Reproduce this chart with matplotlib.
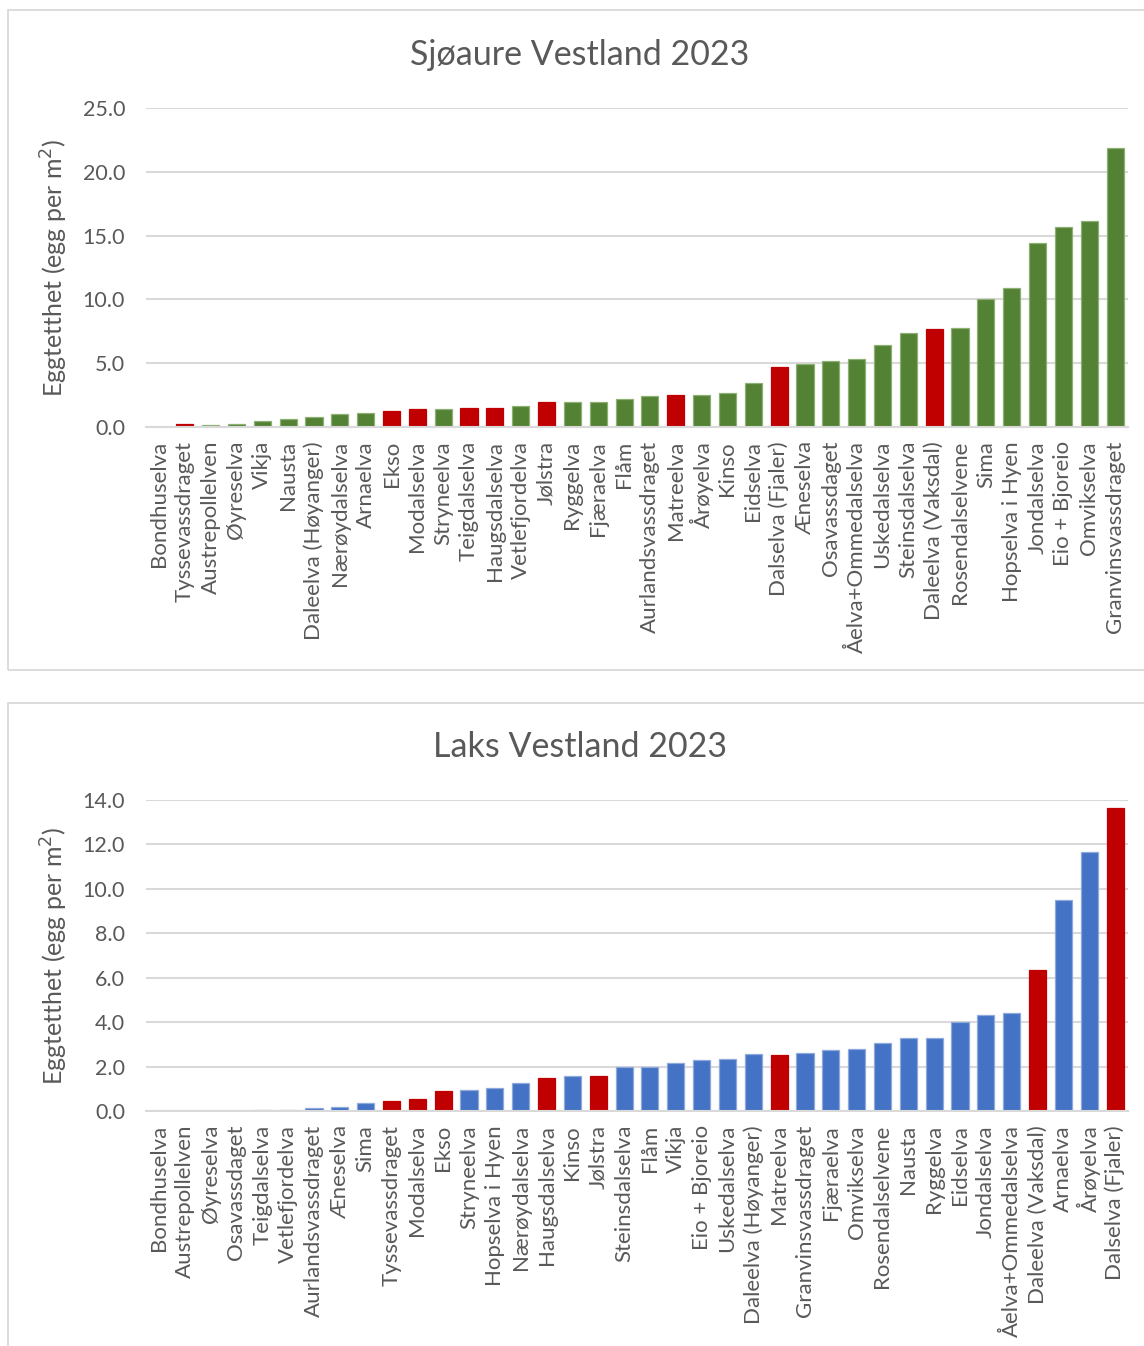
import matplotlib
matplotlib.use("Agg")
import matplotlib.pyplot as plt
from matplotlib.patches import Rectangle

# ---------------- data ----------------
trout_rivers = ["Bondhuselva", "Tyssevassdraget", "Austrepollelven", "Øyreselva", "Vikja", "Nausta",
                "Daleelva (Høyanger)", "Nærøydalselva", "Arnaelva", "Ekso", "Modalselva", "Stryneelva",
                "Teigdalselva", "Haugsdalselva", "Vetlefjordelva", "Jølstra", "Ryggelva", "Fjæraelva",
                "Flåm", "Aurlandsvassdraget", "Matreelva", "Årøyelva", "Kinso", "Eidselva",
                "Dalselva (Fjaler)", "Æneselva", "Osavassdaget", "Åelva+Ommedalselva", "Uskedalselva",
                "Steinsdalselva", "Daleelva (Vaksdal)", "Rosendalselvene", "Sima", "Hopselva i Hyen",
                "Jondalselva", "Eio + Bjoreio", "Omvikselva", "Granvinsvassdraget"]
trout_values = [0.03, 0.22, 0.15, 0.25, 0.47, 0.6, 0.8, 1.04, 1.12, 1.25, 1.41, 1.4,
                1.49, 1.49, 1.65, 1.96, 1.93, 1.96, 2.19, 2.4, 2.5, 2.52, 2.66, 3.42,
                4.71, 4.97, 5.2, 5.34, 6.42, 7.39, 7.7, 7.78, 10.05, 10.9,
                14.4, 15.7, 16.15, 21.9]
trout_highlight = ["Tyssevassdraget", "Ekso", "Modalselva", "Teigdalselva", "Haugsdalselva",
                   "Jølstra", "Matreelva", "Dalselva (Fjaler)", "Daleelva (Vaksdal)"]

salmon_rivers = ["Bondhuselva", "Austrepollelven", "Øyreselva", "Osavassdaget", "Teigdalselva",
                 "Vetlefjordelva", "Aurlandsvassdraget", "Æneselva", "Sima", "Tyssevassdraget",
                 "Modalselva", "Ekso", "Stryneelva", "Hopselva i Hyen", "Nærøydalselva",
                 "Haugsdalselva", "Kinso", "Jølstra", "Steinsdalselva", "Flåm", "Vikja",
                 "Eio + Bjoreio", "Uskedalselva", "Daleelva (Høyanger)", "Matreelva",
                 "Granvinsvassdraget", "Fjæraelva", "Omvikselva", "Rosendalselvene", "Nausta",
                 "Ryggelva", "Eidselva", "Jondalselva", "Åelva+Ommedalselva", "Daleelva (Vaksdal)",
                 "Arnaelva", "Årøyelva", "Dalselva (Fjaler)"]
salmon_values = [0.0, 0.0, 0.0, 0.0, 0.03, 0.03, 0.12, 0.2, 0.36, 0.44,
                 0.53, 0.89, 0.95, 1.02, 1.25, 1.48, 1.57, 1.58, 1.98, 2.0, 2.17,
                 2.3, 2.36, 2.56, 2.53, 2.62, 2.75, 2.77, 3.07, 3.28,
                 3.29, 4.01, 4.32, 4.42, 6.36, 9.52, 11.64, 13.62]
salmon_highlight = ["Tyssevassdraget", "Modalselva", "Ekso", "Haugsdalselva", "Jølstra",
                    "Matreelva", "Daleelva (Vaksdal)", "Dalselva (Fjaler)"]

titles = ["Sjøaure Vestland 2023", "Laks Vestland 2023"]
y_label = "Eggtetthet (egg per m$^2$)"
trout_yticks = [0, 5, 10, 15, 20, 25]
salmon_yticks = [0, 2, 4, 6, 8, 10, 12, 14]

# ---------------- style ----------------
plt.rcParams['font.family'] = ['Lato', 'DejaVu Sans']
TXT = '#595959'
GRID = '#d9d9d9'
RED = '#C00000'

W, H = 1144, 1346
fig = plt.figure(figsize=(W / 100, H / 100), dpi=100)

def fx(px):
    return px / W

def fy(py):
    return 1 - py / H

# panel borders
for (x0, y0, x1, y1) in [(8, 10, 1150, 670), (8, 703, 1150, 1352)]:
    fig.patches.append(Rectangle((fx(x0), fy(y1)), fx(x1 - x0), (y1 - y0) / H,
                                 transform=fig.transFigure, fill=False,
                                 edgecolor=GRID, linewidth=1.3, zorder=0))

def draw(ax, rivers, values, highlight, base, edge, yticks, title, title_y):
    colors = [RED if r in highlight else base for r in rivers]
    edges = [RED if r in highlight else edge for r in rivers]
    x = range(len(rivers))
    ax.bar(x, values, width=0.66, color=colors, edgecolor=edges, linewidth=0.9, zorder=3)
    ax.set_xlim(-0.5, len(rivers) - 0.5)
    ax.set_ylim(yticks[0], yticks[-1])
    ax.set_yticks(yticks)
    ax.set_yticklabels([f"{v:.1f}" for v in yticks], fontsize=15.5, color=TXT)
    ax.set_xticks(list(x))
    ax.set_xticklabels(rivers, rotation=90, fontsize=16, color=TXT)
    ax.tick_params(length=0, pad=10)
    ax.tick_params(axis='y', pad=15)
    ax.grid(axis='y', color=GRID, linewidth=1.5, zorder=0)
    for s in ['top', 'right', 'left']:
        ax.spines[s].set_visible(False)
    ax.spines['bottom'].set_color(GRID)
    ax.spines['bottom'].set_linewidth(1.5)
    ax.spines['bottom'].set_zorder(4)
    ax.set_ylabel(y_label, fontsize=18, color=TXT)
    fig.text(fx(580), fy(title_y), title, fontsize=24.5, color=TXT, ha='center', va='center')

ax1 = fig.add_axes([fx(146), fy(427), fx(1128 - 146), (427 - 108) / H])
draw(ax1, trout_rivers, trout_values, trout_highlight, '#548235', '#8fb075',
     trout_yticks, titles[0], 55)
ax1.yaxis.set_label_coords(-0.077, 0.5)

ax2 = fig.add_axes([fx(146), fy(1111), fx(1128 - 146), (1111 - 800) / H])
draw(ax2, salmon_rivers, salmon_values, salmon_highlight, '#4472C4', '#8ea9db',
     salmon_yticks, titles[1], 747)
ax2.yaxis.set_label_coords(-0.077, 0.5)

fig.savefig("out.png", dpi=100, facecolor='white')
